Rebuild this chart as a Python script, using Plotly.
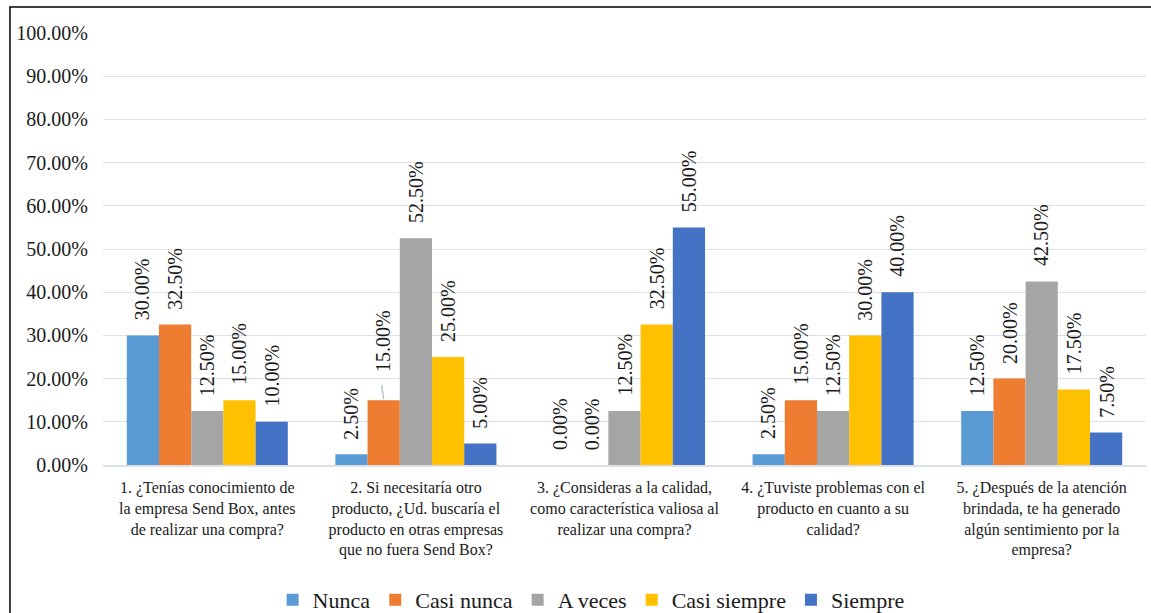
import plotly.graph_objects as go

# Survey questions (x categories)
questions = [
    "1. ¿Tenías conocimiento de<br>la empresa Send Box, antes<br>de realizar una compra?",
    "2. Si necesitaría otro<br>producto, ¿Ud. buscaría el<br>producto en otras empresas<br>que no fuera Send Box?",
    "3. ¿Consideras a la calidad,<br>como característica valiosa al<br>realizar una compra?",
    "4. ¿Tuviste problemas con el<br>producto en cuanto a su<br>calidad?",
    "5. ¿Después de la atención<br>brindada, te ha generado<br>algún sentimiento por la<br>empresa?",
]

# Response shares per answer option (fractions)
nunca = [0.30, 0.025, 0.0, 0.025, 0.125]
casi_nunca = [0.325, 0.15, 0.0, 0.15, 0.20]
a_veces = [0.125, 0.525, 0.125, 0.125, 0.425]
casi_siempre = [0.15, 0.25, 0.325, 0.30, 0.175]
siempre = [0.10, 0.05, 0.55, 0.40, 0.075]

series_names = ["Nunca", "Casi nunca", "A veces", "Casi siempre", "Siempre"]
series_values = [nunca, casi_nunca, a_veces, casi_siempre, siempre]
series_colors = ["#5A9BD5", "#EE7D31", "#A5A5A5", "#FFC000", "#4472C4"]

FONT = "Liberation Serif"
TXT = "#1a1a1a"
BAR_GAP = 0.228
bar_w = (1 - BAR_GAP) / len(series_names)

fig = go.Figure()
positions = list(range(len(questions)))
for name, vals, col in zip(series_names, series_values, series_colors):
    fig.add_trace(go.Bar(
        x=positions, y=vals, name=name,
        marker=dict(color=col, line=dict(width=0)),
    ))

# Rotated value labels above each bar
annotations = []
shapes = []
for s, vals in enumerate(series_values):
    off = (s - (len(series_names) - 1) / 2) * bar_w
    for i, v in enumerate(vals):
        lifted = (s == 1 and i == 1)
        annotations.append(dict(
            x=i + off, y=v, xref="x", yref="y",
            text=f"{v * 100:.2f}%", textangle=-90,
            showarrow=False, xanchor="center", yanchor="bottom",
            yshift=26 if lifted else 13,
            font=dict(family=FONT, size=20, color=TXT),
        ))
        if lifted:
            shapes.append(dict(
                type="line", xref="x", yref="y",
                xsizemode="pixel", xanchor=i + off, x0=0, x1=-2,
                ysizemode="pixel", yanchor=v, y0=1, y1=15,
                line=dict(color="#A9B7C8", width=1.2),
            ))

# Outer chart border
shapes.append(dict(
    type="rect", xref="paper", yref="paper",
    x0=-0.0892, x1=1.02, y0=-0.4, y1=1.0602,
    line=dict(color="#000000", width=1.5), fillcolor="rgba(0,0,0,0)",
    layer="below",
))

fig.update_layout(
    width=1151, height=613,
    margin=dict(l=103, r=5, t=33, b=148, autoexpand=False),
    paper_bgcolor="white", plot_bgcolor="white",
    barmode="group", bargap=BAR_GAP, bargroupgap=0,
    font=dict(family=FONT, color=TXT),
    annotations=annotations, shapes=shapes,
    legend=dict(
        orientation="h", x=0.468, xanchor="center", y=-0.3125, yanchor="middle",
        font=dict(family=FONT, size=22, color=TXT),
        itemwidth=30, tracegroupgap=0,
    ),
    showlegend=True,
)
fig.update_yaxes(
    range=[0, 1], dtick=0.1, tickformat=".2%",
    showgrid=True, gridcolor="#DDE1E7", gridwidth=1.3,
    zeroline=False, showline=False, automargin=False,
    tickfont=dict(family=FONT, size=20, color=TXT),
    ticklabelstandoff=14,
)
fig.update_xaxes(
    range=[-0.5, len(questions) - 0.5],
    tickmode="array", tickvals=positions, ticktext=questions,
    showgrid=False, zeroline=False, automargin=False,
    showline=True, linecolor="#DDE1E7", linewidth=1.5,
    tickfont=dict(family=FONT, size=16, color=TXT),
    tickangle=0, ticks="", ticklabelstandoff=7,
)

fig.write_html("out.html")
